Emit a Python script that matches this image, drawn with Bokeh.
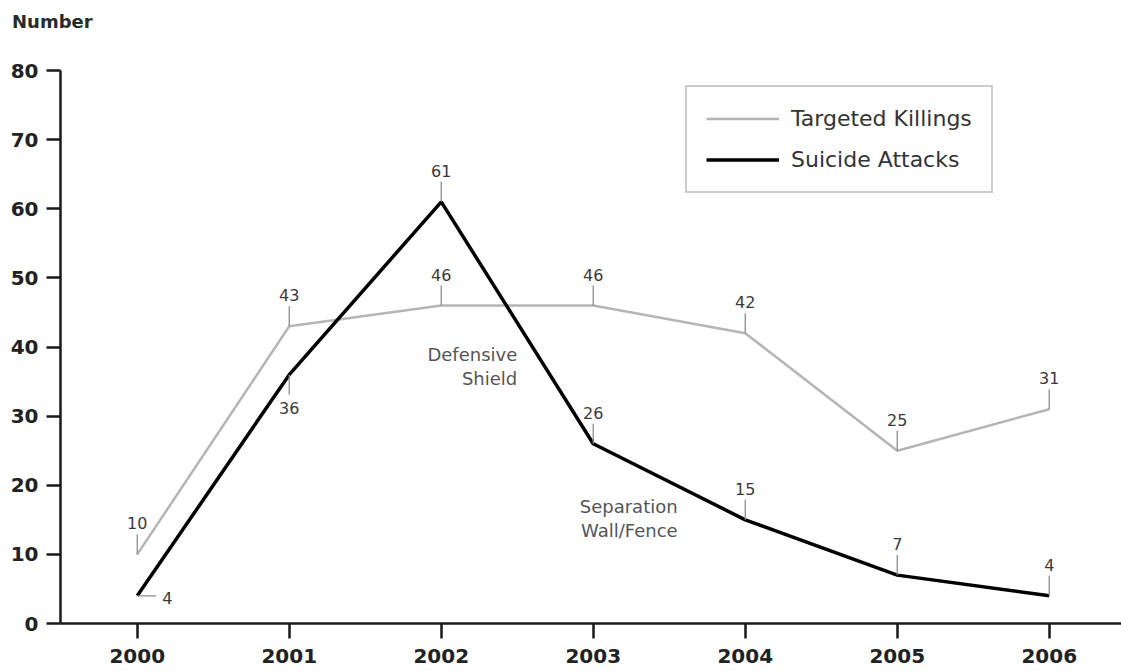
from bokeh.plotting import figure
from bokeh.models import (Range1d, FixedTicker, Legend, LegendItem, ColumnDataSource, Div)
from bokeh.layouts import column
from bokeh.core.properties import value
from bokeh.embed import file_html
from bokeh.resources import INLINE

years = [2000, 2001, 2002, 2003, 2004, 2005, 2006]
targeted = [10, 43, 46, 46, 42, 25, 31]
suicide = [4, 36, 61, 26, 15, 7, 4]
targeted_place = ["above"] * 7
suicide_place = ["right", "below", "above", "above", "above", "above", "above"]
y_ticks = [0, 10, 20, 30, 40, 50, 60, 70, 80]
events = ["Defensive", "Shield", "Separation", "Wall/Fence"]
event_x = [2002.50, 2002.50, 2003.555, 2003.555]
event_y = [38.9, 35.5, 16.9, 13.5]

D = 40
W, H = 1121, 671 - D
BL, BT, BB, BR = 60, 70 - D, 48, 0
frame_h = H - BT - BB
frame_w = W - BL - BR
x0 = 1999.495
px_per_year = 152.0
x1 = x0 + frame_w / px_per_year
ymax = 80
ppu = frame_h / ymax  # pixels per unit y

FONT = "DejaVu Sans"
TEXT_COL = "#3a3a3a"
GRAY = "#b5b5b5"

header = Div(text="Number", width=300, height=D, margin=0,
             styles={"font-family": FONT, "font-weight": "bold", "font-size": "18px",
                     "color": "#2a2a2a", "line-height": "20px",
                     "padding-top": "12px", "padding-left": "12px"})

p = figure(width=W, height=H, output_backend="svg", toolbar_location=None,
           x_range=Range1d(x0, x1), y_range=Range1d(0, ymax),
           min_border_left=BL, min_border_top=BT, min_border_bottom=BB, min_border_right=BR)
p.outline_line_color = None
p.xgrid.visible = False
p.ygrid.visible = False
p.background_fill_color = "white"
p.border_fill_color = "white"

for ax in (p.xaxis[0], p.yaxis[0]):
    ax.axis_line_width = 2.5
    ax.axis_line_color = "#1a1a1a"
    ax.major_tick_line_width = 2.5
    ax.major_tick_line_color = "#1a1a1a"
    ax.major_tick_in = 0
    ax.minor_tick_line_color = None
    ax.major_label_text_font = FONT
    ax.major_label_text_font_style = "bold"
    ax.major_label_text_font_size = "20px"
    ax.major_label_text_color = "#222222"

p.xaxis.ticker = FixedTicker(ticks=years)
p.xaxis.major_tick_out = 15
p.xaxis.major_label_standoff = 10
p.yaxis.ticker = FixedTicker(ticks=y_ticks)
p.yaxis.major_tick_out = 14
p.yaxis.major_label_standoff = 8

r_t = p.line(years, targeted, line_color=GRAY, line_width=2.5)
r_s = p.line(years, suicide, line_color="black", line_width=3.5)

# value labels with leader lines
lead = 20 / ppu
def add_labels(vals, places):
    sx0, sy0, sx1, sy1 = [], [], [], []
    tx, ty, tt, xo, yo = [], [], [], [], []
    for x, v, pl in zip(years, vals, places):
        tt.append(str(v)); tx.append(x); ty.append(v)
        if pl == "above":
            sx0.append(x); sy0.append(v); sx1.append(x); sy1.append(v + lead)
            xo.append(0); yo.append(-31)
        elif pl == "below":
            sx0.append(x); sy0.append(v); sx1.append(x); sy1.append(v - lead)
            xo.append(0); yo.append(33)
        else:
            sx0.append(x); sy0.append(v); sx1.append(x + 19 / px_per_year); sy1.append(v)
            xo.append(30); yo.append(2)
    p.segment(sx0, sy0, sx1, sy1, line_color="#8c8c8c", line_width=1.3)
    src = ColumnDataSource(dict(x=tx, y=ty, t=tt, xo=xo, yo=yo))
    p.text(x="x", y="y", text="t", x_offset="xo", y_offset="yo", source=src,
           text_font=value(FONT), text_font_size="16px", text_color=TEXT_COL,
           text_align="center", text_baseline="middle")

add_labels(targeted, targeted_place)
add_labels(suicide, suicide_place)

p.text(x=event_x, y=event_y, text=events, text_font=value(FONT), text_font_size="18px",
       text_color="#555555", text_align="right", text_baseline="middle")

legend = Legend(items=[LegendItem(label="Targeted Killings", renderers=[r_t]),
                       LegendItem(label="Suicide Attacks", renderers=[r_s])],
                location=(625, 430), padding=19, spacing=16, glyph_width=73,
                glyph_height=25, label_height=25, label_standoff=12, margin=0,
                label_text_font=FONT, label_text_font_size="22px", label_text_color="#333333",
                border_line_color="#999999", border_line_width=2, background_fill_alpha=1)
p.add_layout(legend)

layout = column(header, p, spacing=0)
open("out.html", "w").write(file_html(layout, INLINE))
